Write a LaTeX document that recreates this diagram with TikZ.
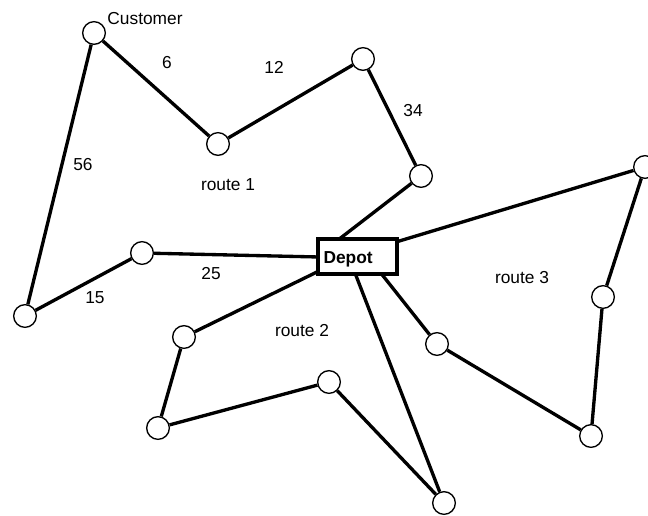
\documentclass[tikz,border=0pt]{standalone}
\usepackage{fontspec}
\setmainfont{Liberation Sans}
\usepackage{tikz}
\usetikzlibrary{arrows}

\tikzset{
  cust/.style={circle, draw, line width=1pt, fill=white, minimum size=17pt, inner sep=0pt},
  depot/.style={rectangle, draw, line width=3pt, fill=white, minimum width=59pt, minimum height=26pt,
    text width=51pt, text height=11pt, text depth=0pt, inner xsep=4pt, align=left,
    font=\fontsize{13}{15}\selectfont\bfseries},
  route/.style={line width=2.5pt},
  lbl/.style={inner sep=1pt}
}

\begin{document}
\begin{tikzpicture}[x=0.75pt, y=-0.75pt, font=\fontsize{13}{15}\selectfont]
\useasboundingbox (0,0) rectangle (648,516);
\node[cust](c1) at (94,33) {};
\node[cust](c2) at (218,144) {};
\node[cust](c3) at (363,59) {};
\node[cust](c4) at (421,176) {};
\node[cust](c5) at (645,167) {};
\node[cust](c6) at (142,253) {};
\node[cust](c7) at (25,316) {};
\node[cust](c8) at (184,337) {};
\node[cust](c9) at (158,428) {};
\node[cust](c10) at (329,382) {};
\node[cust](c11) at (444,503) {};
\node[cust](c12) at (437,344) {};
\node[cust](c13) at (603,297) {};
\node[cust](c14) at (591,436) {};
% where the routes meet the depot box
\coordinate(dtop) at (338,240);
\coordinate(dright) at (396,242);
\coordinate(dleft) at (319,257);
\coordinate(dlow) at (319,271);
\coordinate(dbot) at (355,273);
\coordinate(dbr) at (380,272);
%
\draw[route](dtop) -- (c4) -- (c3) -- (c2) -- (c1) -- (c7) -- (c6) -- (dleft);
\draw[route](dlow) -- (c8) -- (c9) -- (c10) -- (c11) -- (dbot);
\draw[route](dright) -- (c5) -- (c13) -- (c14) -- (c12) -- (dbr);
%
\node[depot](depot) at (357.5,256.5) {Depot};
%
\node[lbl](customer) at (145,19) {Customer};
\node[lbl](d6) at (167,63) {6};
\node[lbl](d12) at (274,67) {12};
\node[lbl](d34) at (413,111) {34};
\node[lbl](d56) at (83,165) {56};
\node[lbl](d25) at (211,274) {25};
\node[lbl](d15) at (95,298) {15};
\node[lbl](r1) at (228,185) {route 1};
\node[lbl](r2) at (302,331) {route 2};
\node[lbl](r3) at (522,278) {route 3};
\end{tikzpicture}
\end{document}
